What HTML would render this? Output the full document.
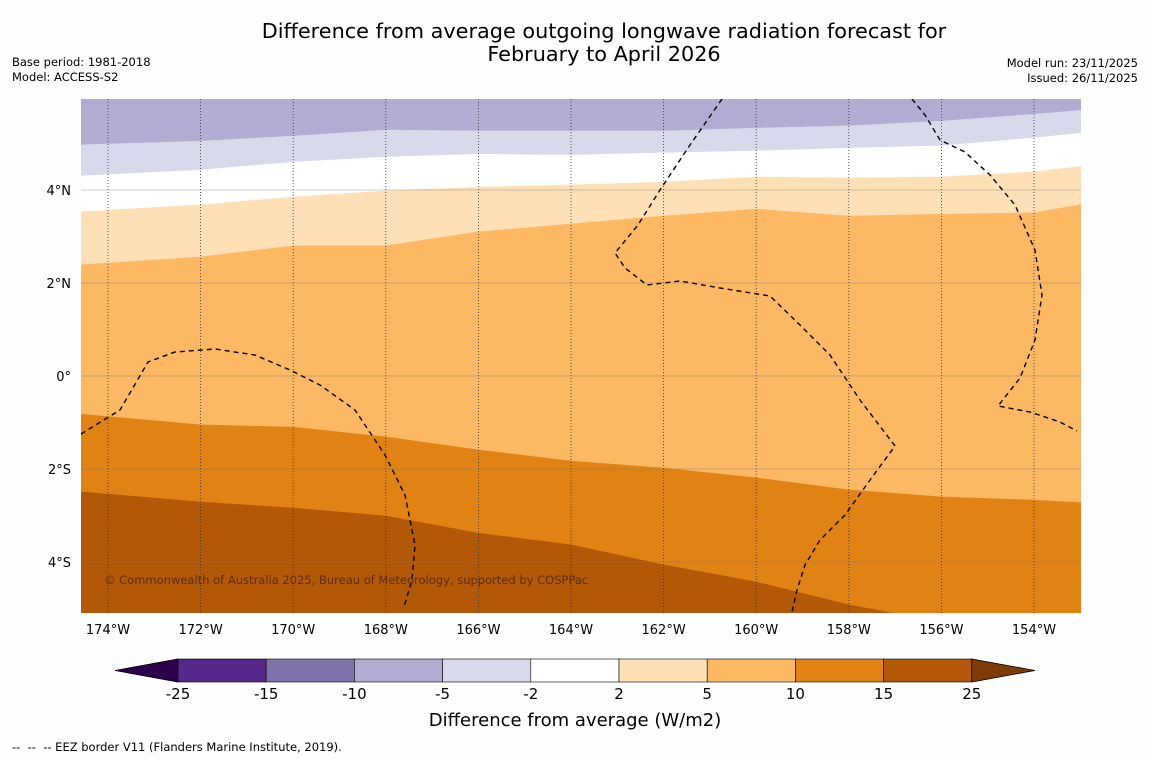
<!DOCTYPE html>
<html><head><meta charset="utf-8">
<style>
html,body{margin:0;padding:0;background:#fff;}
body{width:1150px;height:758px;overflow:hidden;font-family:"Liberation Sans","DejaVu Sans",sans-serif;}
</style></head>
<body>
<svg id="chart" width="1150" height="758" xmlns="http://www.w3.org/2000/svg" font-family="DejaVu Sans, Liberation Sans, sans-serif">
<rect width="1150" height="758" fill="#fefefe"/>
<text x="604" y="38" font-size="20.8" text-anchor="middle" fill="#000">Difference from average outgoing longwave radiation forecast for</text>
<text x="604" y="61" font-size="20.8" text-anchor="middle" fill="#000">February to April 2026</text>
<text x="12" y="66" font-size="11.5">Base period: 1981-2018</text>
<text x="12" y="81" font-size="11.5">Model: ACCESS-S2</text>
<text x="1138" y="67" font-size="11.5" text-anchor="end">Model run: 23/11/2025</text>
<text x="1138" y="82" font-size="11.5" text-anchor="end">Issued: 26/11/2025</text>
<defs><clipPath id="plotclip"><rect x="81" y="99" width="1000" height="514"/></clipPath></defs>
<g id="bands" clip-path="url(#plotclip)"></g>
<g id="grid" clip-path="url(#plotclip)"></g>
<g id="eez" clip-path="url(#plotclip)" fill="none" stroke="#000" stroke-width="1.4" stroke-dasharray="5,4"></g>
<text x="104" y="584" font-size="11.5" fill="#5e2d05">© Commonwealth of Australia 2025, Bureau of Meteorology, supported by COSPPac</text>
<g id="axes"></g>
<g id="colorbar"></g>
<text x="575" y="726" font-size="18" text-anchor="middle">Difference from average (W/m2)</text>
<text x="12" y="751" font-size="11.5" xml:space="preserve">--  --  -- EEZ border V11 (Flanders Marine Institute, 2019).</text>
</svg>
<script>
const lons=[-174.6,-172,-170,-168,-166,-164,-162,-160,-158,-156,-154,-152.9];
const b_m2_m5=[4.97,5.05,5.16,5.29,5.27,5.27,5.27,5.33,5.38,5.48,5.63,5.72];
const b_2_m2=[4.30,4.43,4.60,4.71,4.77,4.75,4.80,4.84,4.90,4.95,5.12,5.23];
const b_5_2=[3.53,3.68,3.85,3.98,4.06,4.11,4.17,4.28,4.26,4.28,4.39,4.52];
const b_10_5=[2.39,2.56,2.80,2.80,3.10,3.27,3.44,3.59,3.44,3.48,3.51,3.70];
const b_15_10=[-0.82,-1.05,-1.10,-1.31,-1.59,-1.83,-1.98,-2.19,-2.45,-2.60,-2.67,-2.73];
const b_25_15=[-2.49,-2.71,-2.84,-3.01,-3.38,-3.63,-4.06,-4.43,-4.92,-5.3,-5.4,-5.5];
const xTickLons=[-174,-172,-170,-168,-166,-164,-162,-160,-158,-156,-154];
const yTickLats=[4,2,0,-2,-4];
const cbLevels=["-25","-15","-10","-5","-2","2","5","10","15","25"];
const cbColors=["#542788","#8073ac","#b2abd2","#d8daeb","#ffffff","#fee0b6","#fdb863","#e08214","#b35806"];

const NS="http://www.w3.org/2000/svg";
function X(lon){return 108+(lon+174)*46.3;}
function Y(lat){return 376-lat*46.5;}
function mk(tag,attrs,parent){const e=document.createElementNS(NS,tag);for(const k in attrs)e.setAttribute(k,attrs[k]);parent.appendChild(e);return e;}
const bands=document.getElementById('bands');
const topEdge=lons.map(()=>7),botEdge=lons.map(()=>-7);
const layers=[[topEdge,b_m2_m5,"#b2abd2","band-minus5-minus10"],[b_m2_m5,b_2_m2,"#d8daeb","band-minus2-minus5"],[b_2_m2,b_5_2,"#ffffff","band-2-minus2"],[b_5_2,b_10_5,"#fee0b6","band-2-5"],[b_10_5,b_15_10,"#fdb863","band-5-10"],[b_15_10,b_25_15,"#e08214","band-10-15"],[b_25_15,botEdge,"#b35806","band-15-25"]];
layers.forEach(L=>{
  let pts=lons.map((l,i)=>X(l)+","+Y(L[0][i]));
  pts=pts.concat(lons.slice().reverse().map((l,j)=>X(l)+","+Y(L[1][lons.length-1-j])));
  const p=mk('polygon',{points:pts.join(' '),fill:L[2],stroke:L[2],'stroke-width':0.5},bands);
  
  
});
const grid=document.getElementById('grid'),axes=document.getElementById('axes');
xTickLons.forEach(l=>{
  const g=mk('line',{x1:X(l),x2:X(l),y1:99,y2:613,stroke:'#333','stroke-width':0.8,'stroke-dasharray':'1,2'},grid);
  
  
  const t=mk('text',{x:X(l),y:634,'font-size':13,'text-anchor':'middle'},axes);
  t.textContent=Math.abs(l)+"°W";
  
  
});
yTickLats.forEach(a=>{
  const g=mk('line',{x1:81,x2:1081,y1:Y(a),y2:Y(a),stroke:'#777','stroke-width':0.5,opacity:0.7},grid);
  
  
  const t=mk('text',{x:71,y:Y(a)+5,'font-size':13,'text-anchor':'end'},axes);
  t.textContent=a===0?"0°":Math.abs(a)+"°"+(a>0?"N":"S");
  
  
});
const eez=document.getElementById('eez');
const eezLines=[
"81,434 120,410 148,362 175,352 215,349 255,355 290,370 320,385 355,410 385,455 405,495 415,545 412,580 404,607",
"722,99 690,145 660,190 638,225 615,253 625,268 647,285 680,281 720,288 770,296 800,325 830,355 860,400 895,446 870,480 845,515 820,540 805,565 797,590 792,612",
"912,99 925,115 940,140 965,152 990,175 1015,205 1035,250 1042,295 1035,340 1020,378 998,406 1030,412 1060,422 1077,431"];
eezLines.forEach(p=>{const e=mk('polyline',{points:p},eez);
  
  });
const cb=document.getElementById('colorbar');
const cx0=178,cw=88.2,cy=659,ch=23;
const lt=mk('polygon',{points:`${cx0},${cy} ${cx0},${cy+ch} 115,${cy+ch/2}`,fill:'#2d004b',stroke:'#000','stroke-width':0.8},cb);


cbColors.forEach((c,i)=>{
  const r=mk('rect',{x:cx0+i*cw,y:cy,width:cw,height:ch,fill:c,stroke:'#000','stroke-width':0.6},cb);
  
  
});
const xe=cx0+cbColors.length*cw;
const rt=mk('polygon',{points:`${xe},${cy} ${xe},${cy+ch} 1035,${cy+ch/2}`,fill:'#7f3b08',stroke:'#000','stroke-width':0.8},cb);


cbLevels.forEach((s,i)=>{
  const t=mk('text',{x:cx0+i*cw,y:699,'font-size':15,'text-anchor':'middle'},cb);
  t.textContent=s;
  
  
});
</script>
</body></html>
